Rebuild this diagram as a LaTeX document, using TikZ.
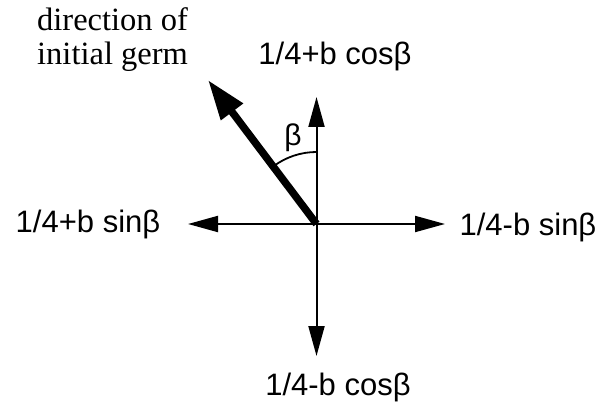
\documentclass[tikz,border=0pt]{standalone}
\usepackage{fontspec}
\setmainfont{Liberation Serif}
\newfontfamily\arialf{Liberation Sans}
\usetikzlibrary{arrows.meta}
\begin{document}
\begin{tikzpicture}[x=1pt,y=-1pt,
  lbl/.style={font=\arialf\fontsize{31}{36}\selectfont, inner sep=0pt, anchor=base},
  serif/.style={font=\fontsize{32.5}{36}\selectfont, inner sep=0pt, anchor=base west},
  axis/.style={line width=2pt, -{Triangle[length=30pt,width=16pt]}},
  germ/.style={line width=7.5pt, -{Triangle[length=40pt,width=26pt]}}]
\useasboundingbox (0,0) rectangle (609,403);
\coordinate (O) at (316.5,224);
\coordinate (U) at (316.5,97);
\coordinate (D) at (316.5,356);
\coordinate (L) at (188,224);
\coordinate (R) at (445,224);
\coordinate (G) at (208,80);
\draw[axis] (O) -- (U);
\draw[axis] (O) -- (D);
\draw[axis] (O) -- (L);
\draw[axis] (O) -- (R);
\draw[line width=1.8pt] (O) ++(-90:72) arc[start angle=-90, end angle=-126.87, radius=72];
\draw[germ] (O) -- (G);
\node[lbl] (tu) at (335,65) {1/4+b cos\symbol{"03B2}};
\node[lbl] (td) at (338,395) {1/4-b cos\symbol{"03B2}};
\node[lbl] (tl) at (88,232) {1/4+b sin\symbol{"03B2}};
\node[lbl] (tr) at (528,235) {1/4-b sin\symbol{"03B2}};
\node[font=\arialf\fontsize{30}{34}\selectfont, inner sep=0pt] (tb) at (293,138) {\symbol{"03B2}};
\node[serif] (tg) at (37,31) {direction of};
\node[serif] (tg2) at (37,65) {initial germ};
\end{tikzpicture}
\end{document}
